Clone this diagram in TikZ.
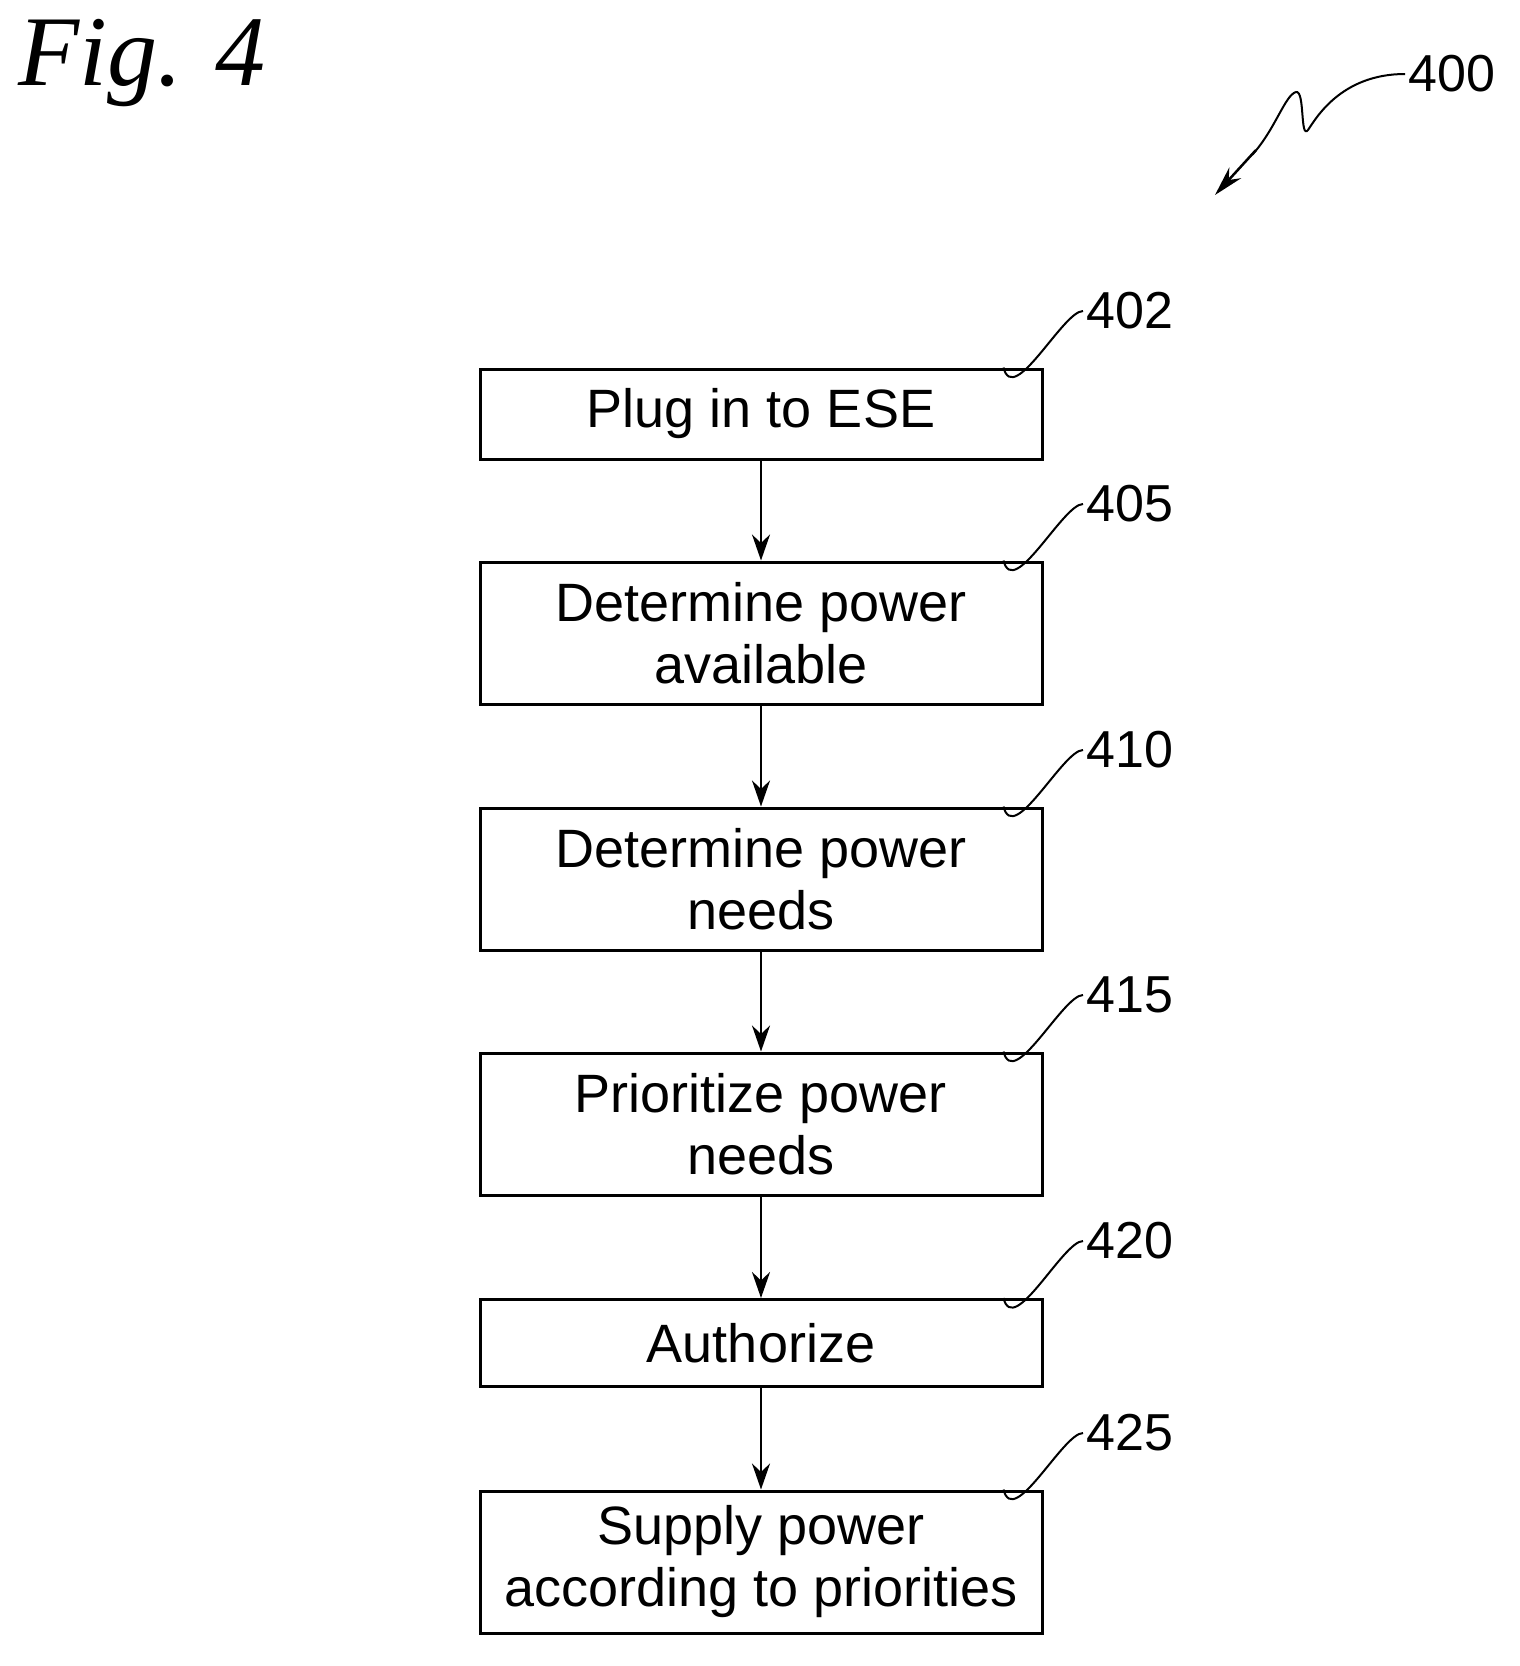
\documentclass[tikz,border=0pt]{standalone}
\usepackage{fontspec}
\setmainfont{Liberation Sans}
\newfontfamily\figfont{Liberation Serif}
\usetikzlibrary{arrows.meta}
\begin{document}
\begin{tikzpicture}[x=1pt,y=-1pt,
  box/.style={draw,line width=3pt,minimum width=562pt,align=center,font=\fontsize{54}{62}\selectfont,inner sep=0pt},
  lab/.style={font=\fontsize{52}{60}\selectfont,anchor=west},
  arr/.style={line width=2.5pt,-{Stealth[length=26pt,width=18pt]}},
  lead/.style={line width=2pt}]
\useasboundingbox (0,0) rectangle (1520,1666);
\node[font=\figfont\itshape\fontsize{100}{110}\selectfont,anchor=west] (fig) at (15,63) {Fig. 4};
\node[box,minimum height=90pt] (b402) at (761,414) {Plug in to ESE};
\node[box,minimum height=142pt] (b405) at (761,633) {Determine power\\available};
\node[box,minimum height=142pt] (b410) at (761,879) {Determine power\\needs};
\node[box,minimum height=142pt] (b415) at (761,1124) {Prioritize power\\needs};
\node[box,minimum height=87pt] (b420) at (761,1343) {Authorize};
\node[box,minimum height=142pt] (b425) at (761,1562) {Supply power\\according to priorities};
\foreach \a/\b in {b402/b405,b405/b410,b410/b415,b415/b420,b420/b425}
  \draw[arr] (\a.south) -- (\b.north);
\foreach \n/\y in {402/311,405/504,410/750,415/995,420/1241,425/1433}{
  \node[lab] (l\n) at (1083,\y) {\n};
  \draw[lead] ([xshift=-40pt]b\n.north east) .. controls ([xshift=-30pt,yshift=-40pt]b\n.north east) and ([xshift=-20pt]l\n.west) .. (l\n.west);
}
\node[lab] (l400) at (1405,74) {400};
\coordinate (tip) at (1215,195);
\draw[lead] (l400.west) .. controls (1340,74) and (1315,120) .. (1308,130)
  .. controls (1300,140) and (1305,90) .. (1296,92)
  .. controls (1285,95) and (1275,130) .. (1252,155);
\draw[line width=2.5pt,-{Stealth[length=30pt,width=16pt]}] (1256,150) -- (tip);
\end{tikzpicture}
\end{document}
